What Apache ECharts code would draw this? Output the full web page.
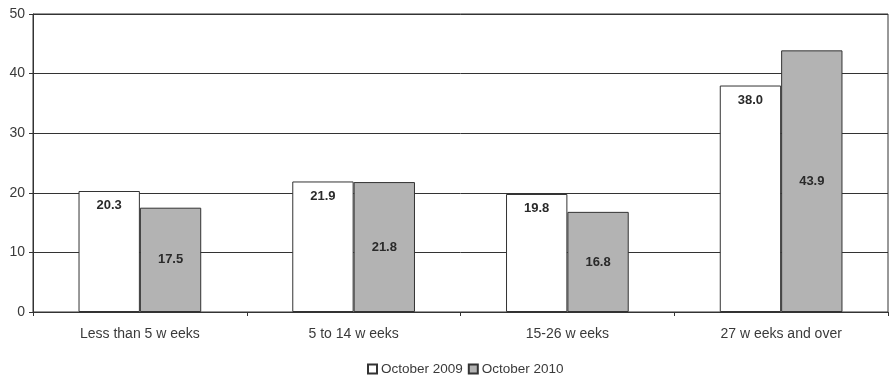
<!DOCTYPE html>
<html>
<head>
<meta charset="utf-8">
<script src="https://cdn.jsdelivr.net/npm/echarts@6/dist/echarts.min.js"></script>
<style>
  html, body { margin: 0; padding: 0; background: #fff; }
  #chart { width: 889px; height: 381px; }
</style>
</head>
<body>
<div id="chart"></div>
<script>
// Duration of unemployment, percent of unemployed
const categories = ['Less than 5 w eeks', '5 to 14 w eeks', '15-26 w eeks', '27 w eeks and over'];
const oct2009 = [20.3, 21.9, 19.8, 38.0];
const oct2010 = [17.5, 21.8, 16.8, 43.9];
const seriesNames = ['October 2009', 'October 2010'];

const chart = echarts.init(document.getElementById('chart'), null, { renderer: 'canvas' });
const font = '"Liberation Sans", Arial, sans-serif';

chart.setOption({
  animation: false,
  backgroundColor: '#ffffff',
  grid: { left: 33, right: 1, top: 14, bottom: 69, show: true, borderColor: '#333', borderWidth: 1 },
  legend: {
    bottom: 0,
    left: 362,
    itemWidth: 9,
    itemHeight: 9,
    itemGap: 5,
    icon: 'rect',
    textStyle: { fontFamily: font, fontSize: 13.5, color: '#3a3a3a', padding: [0, 0, 0, -1] },
    data: seriesNames
  },
  xAxis: {
    type: 'category',
    data: categories,
    axisLine: { lineStyle: { color: '#333' } },
    axisTick: { show: true, length: 4, lineStyle: { color: '#333' } },
    axisLabel: { fontFamily: font, fontSize: 14, color: '#3a3a3a', margin: 15 }
  },
  yAxis: {
    type: 'value',
    min: 0,
    max: 50,
    interval: 10,
    axisLine: { show: true, lineStyle: { color: '#333' } },
    axisTick: { show: true, length: 4, lineStyle: { color: '#333' } },
    axisLabel: { fontFamily: font, fontSize: 14, color: '#3a3a3a', margin: 8 },
    splitLine: { lineStyle: { color: '#333', width: 1 } }
  },
  series: [
    {
      name: seriesNames[0],
      type: 'bar',
      data: oct2009,
      barWidth: '28.7%',
      barGap: '0%',
      itemStyle: { color: '#ffffff', borderColor: '#333', borderWidth: 1 },
      label: {
        show: true,
        position: 'insideTop',
        distance: 8,
        formatter: p => p.value.toFixed(1),
        fontFamily: font, fontSize: 13, fontWeight: 'bold', color: '#2a2a2a'
      }
    },
    {
      name: seriesNames[1],
      type: 'bar',
      data: oct2010,
      barWidth: '28.7%',
      itemStyle: { color: '#b3b3b3', borderColor: '#333', borderWidth: 1 },
      label: {
        show: true,
        position: 'inside',
        formatter: p => p.value.toFixed(1),
        fontFamily: font, fontSize: 13, fontWeight: 'bold', color: '#2a2a2a'
      }
    }
  ]
});
</script>
</body>
</html>
